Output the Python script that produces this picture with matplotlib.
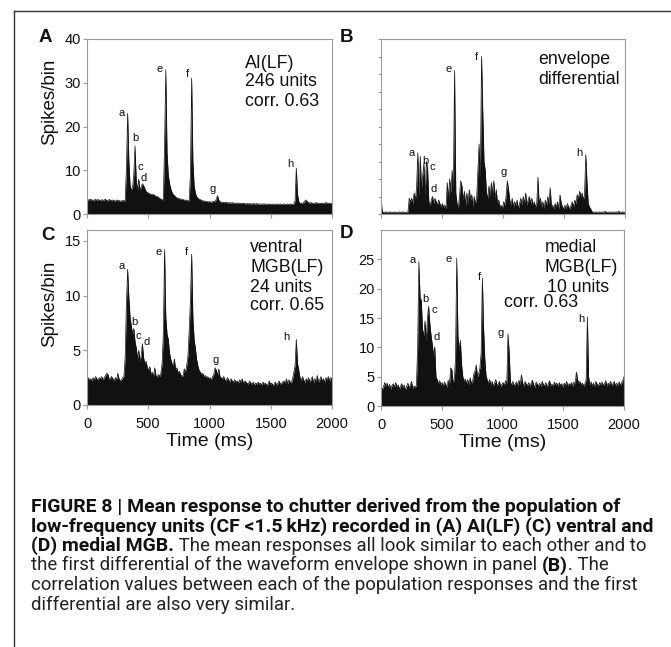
import numpy as np
import matplotlib

matplotlib.use("Agg")
import matplotlib.pyplot as plt
from matplotlib import font_manager
from matplotlib.lines import Line2D

plt.rcParams["font.family"] = ["Liberation Sans", "DejaVu Sans"]

W, H = 671, 647

# mean responses, 10 ms bins from 0 to 2000 ms (spikes/bin)
resp_a = [
    3.3, 3.1, 3.4, 3.2, 3.3, 3.0, 3.2, 3.4, 3.1, 3.3, 3.2, 3.0, 3.3, 3.1, 3.2, 3.4, 3.0, 3.1, 3.3, 3.2,
    3.0, 3.2, 3.1, 2.9, 3.2, 3.0, 3.1, 2.9, 3.0, 3.1, 3.0, 3.1, 10.0, 23.0, 12.0, 6.5, 5.5, 6.0, 9.0, 15.6,
    7.5, 5.5, 8.0, 5.5, 6.2, 6.9, 6.5, 5.8, 5.2, 4.9, 4.8, 4.6, 4.5, 4.4, 4.5, 4.2, 4.1, 4.0, 3.8, 3.6,
    3.4, 3.3, 3.2, 16.0, 33.0, 14.0, 9.0, 7.0, 5.8, 5.0, 4.5, 4.2, 3.9, 3.7, 3.6, 3.5, 3.4, 3.4, 3.3, 3.2,
    3.1, 3.2, 3.0, 3.1, 9.0, 31.0, 12.0, 6.5, 4.8, 4.0, 3.6, 3.4, 3.3, 3.1, 3.0, 3.0, 2.9, 2.9, 2.8, 2.8,
    2.8, 2.7, 2.8, 2.9, 2.8, 3.4, 4.2, 3.2, 2.8, 2.7, 2.7, 2.6, 2.7, 2.6, 2.6, 2.5, 2.6, 2.5, 2.6, 2.5,
    2.5, 2.4, 2.5, 2.5, 2.4, 2.4, 2.5, 2.4, 2.4, 2.3, 2.4, 2.3, 2.4, 2.3, 2.3, 2.4, 2.3, 2.3, 2.4, 2.2,
    2.3, 2.3, 2.2, 2.3, 2.3, 2.2, 2.3, 2.2, 2.3, 2.2, 2.2, 2.3, 2.2, 2.2, 2.3, 2.2, 2.2, 2.3, 2.2, 2.2,
    2.3, 2.2, 2.2, 2.3, 2.2, 2.3, 2.2, 2.2, 2.3, 3.0, 10.5, 4.5, 2.8, 2.5, 2.4, 2.5, 2.6, 3.0, 3.2, 2.8,
    2.6, 2.5, 2.6, 2.5, 2.4, 2.5, 2.6, 2.5, 2.4, 2.5, 2.4, 2.5, 2.4, 2.5, 2.6, 2.5, 2.4, 2.5, 2.4, 2.5,
]

# first differential of the envelope (arbitrary units)
env_diff = [
    0.9, 0.15, 0.1, 0.1, 0.12, 0.1, 0.1, 0.12, 0.1, 0.1, 0.1, 0.12, 0.1, 0.1, 0.1, 0.12, 0.1, 0.1, 0.12, 0.1,
    0.1, 0.1, 0.12, 0.9, 0.7, 0.9, 0.6, 1.2, 0.8, 1.5, 3.5, 1.0, 3.3, 1.5, 2.2, 2.9, 1.0, 3.0, 2.6, 0.7,
    0.5, 0.8, 1.0, 0.6, 0.9, 0.7, 0.5, 0.8, 0.6, 0.4, 0.6, 0.4, 0.5, 0.3, 1.8, 0.9, 2.0, 1.2, 2.5, 1.5,
    8.2, 1.2, 0.6, 0.3, 1.0, 1.9, 1.6, 0.8, 1.3, 0.5, 1.2, 0.6, 1.4, 0.8, 1.1, 0.4, 1.0, 0.6, 0.9, 2.5,
    4.0, 2.0, 9.0, 5.8, 3.0, 2.5, 1.2, 0.9, 1.6, 1.0, 1.8, 1.2, 1.9, 0.9, 1.4, 0.6, 0.8, 0.4, 0.5, 0.3,
    0.7, 0.5, 1.0, 1.9, 1.4, 0.8, 0.5, 0.9, 0.4, 0.7, 0.5, 0.8, 0.3, 0.6, 0.9, 0.5, 1.0, 0.6, 1.2, 0.5,
    0.8, 1.0, 0.6, 0.9, 0.5, 0.7, 0.4, 0.6, 2.1, 0.5, 0.9, 0.4, 0.7, 0.3, 0.8, 0.5, 1.0, 0.6, 1.5, 0.4,
    0.5, 0.3, 0.6, 0.4, 0.7, 0.3, 1.1, 0.6, 0.4, 0.3, 0.5, 0.3, 0.6, 0.4, 0.3, 0.5, 0.7, 0.4, 0.8, 0.6,
    1.1, 0.9, 1.3, 1.0, 1.2, 0.8, 1.1, 3.4, 1.8, 0.6, 0.4, 0.3, 0.15, 0.1, 0.1, 0.12, 0.1, 0.1, 0.12, 0.1,
    0.1, 0.12, 0.1, 0.15, 0.1, 0.1, 0.12, 0.1, 0.1, 0.12, 0.1, 0.1, 0.12, 0.1, 0.15, 0.1, 0.1, 0.12, 0.1, 0.1,
]

resp_c = [
    2.2, 2.5, 2.3, 2.4, 2.2, 2.5, 2.3, 2.6, 2.4, 2.3, 2.5, 2.4, 2.6, 2.3, 2.5, 2.7, 2.9, 2.8, 2.3, 2.5,
    2.6, 2.4, 2.2, 2.5, 2.3, 2.9, 2.4, 2.2, 2.3, 2.5, 2.6, 4.4, 9.2, 12.4, 9.8, 8.0, 7.2, 6.5, 7.0, 5.8,
    5.2, 4.2, 5.0, 4.0, 4.5, 5.6, 4.3, 3.8, 4.0, 3.4, 3.2, 3.5, 2.8, 3.0, 2.6, 3.4, 2.7, 2.5, 2.8, 2.6,
    2.9, 3.8, 6.5, 14.2, 8.0, 6.5, 6.0, 4.8, 4.2, 3.8, 3.6, 4.2, 3.2, 3.4, 2.9, 3.1, 2.8, 2.6, 2.7, 3.3,
    3.0, 3.6, 4.5, 6.8, 9.5, 13.8, 8.0, 6.0, 5.2, 4.2, 3.6, 3.2, 3.0, 2.8, 2.9, 2.6, 2.7, 2.5, 2.6, 2.4,
    2.5, 2.3, 2.6, 2.8, 3.4, 3.2, 2.7, 3.3, 2.6, 2.5, 2.4, 2.6, 2.3, 2.2, 2.5, 2.3, 2.1, 2.4, 2.2, 2.1,
    2.3, 2.1, 2.2, 2.0, 2.3, 2.1, 2.4, 2.0, 2.2, 2.1, 2.0, 1.9, 2.2, 2.0, 1.9, 2.1, 1.8, 2.0, 1.9, 2.1,
    1.9, 2.0, 1.8, 2.1, 1.9, 2.0, 1.8, 1.9, 2.2, 1.9, 2.0, 1.8, 1.9, 2.1, 1.8, 2.0, 2.2, 1.9, 2.0, 2.1,
    2.2, 2.0, 2.4, 1.9, 2.3, 2.1, 2.0, 2.4, 3.0, 3.6, 6.0, 3.8, 3.2, 2.5, 2.2, 2.6, 2.3, 2.0, 2.4, 2.2,
    2.5, 2.1, 2.3, 2.6, 2.0, 2.4, 2.2, 2.7, 2.1, 2.3, 2.6, 2.2, 2.4, 2.1, 2.5, 2.3, 2.6, 2.2, 2.5, 2.4,
]

resp_d = [
    3.5, 2.8, 3.2, 4.0, 3.4, 3.9, 3.1, 3.7, 2.9, 3.5, 3.8, 3.2, 4.0, 3.3, 3.6, 2.9, 3.4, 3.8, 3.1, 3.6,
    2.7, 3.3, 3.9, 3.2, 3.5, 4.2, 3.0, 3.4, 3.1, 3.6, 10.0, 24.6, 18.5, 18.0, 13.0, 12.0, 14.5, 11.0, 15.0, 17.0,
    14.0, 12.0, 10.5, 8.5, 10.1, 5.0, 4.5, 3.8, 4.3, 3.6, 4.0, 3.4, 4.1, 3.7, 3.2, 4.4, 3.5, 6.5, 6.2, 4.0,
    4.5, 8.0, 25.2, 12.0, 9.5, 11.2, 7.0, 5.0, 4.2, 4.6, 3.8, 4.5, 3.6, 4.8, 3.9, 4.2, 5.5, 6.0, 7.0, 5.0,
    5.5, 6.5, 9.0, 21.8, 13.3, 8.0, 5.2, 4.4, 3.9, 4.5, 3.6, 4.2, 3.4, 3.9, 4.5, 3.5, 3.8, 4.2, 3.3, 3.7,
    4.0, 3.5, 4.3, 3.8, 12.3, 9.0, 4.0, 3.6, 4.2, 3.4, 3.8, 4.1, 3.5, 4.4, 3.6, 5.3, 3.9, 3.4, 4.2, 3.7,
    3.5, 4.0, 3.3, 3.9, 4.4, 3.6, 3.2, 4.1, 3.7, 3.4, 3.9, 3.3, 4.2, 3.6, 3.5, 4.0, 3.2, 3.8, 4.3, 3.5,
    3.7, 3.4, 4.1, 3.6, 3.9, 3.3, 4.0, 3.5, 3.8, 3.2, 3.9, 3.5, 4.2, 3.4, 3.8, 3.6, 4.0, 3.3, 4.1, 3.7,
    5.8, 4.5, 3.9, 4.2, 3.6, 3.9, 3.4, 3.8, 4.5, 15.2, 5.0, 3.6, 4.1, 3.5, 3.9, 3.3, 4.2, 3.7, 3.4, 4.0,
    3.6, 4.1, 3.5, 3.8, 4.3, 3.4, 3.9, 3.6, 4.2, 3.5, 3.8, 4.2, 3.4, 3.9, 3.5, 4.1, 3.6, 3.9, 4.4, 5.0,
]

peak_names = ["a", "b", "c", "d", "e", "f", "g", "h"]

panel_info = {
    "A": ["AI(LF)", "246 units", "corr. 0.63"],
    "B": ["envelope", "differential"],
    "C": ["ventral", "MGB(LF)", "24 units", "corr. 0.65"],
    "D": ["medial", "MGB(LF)", "10 units", "corr. 0.63"],
}

caption = [
    [("FIGURE 8 | Mean response to chutter derived from the population of", True)],
    [("low-frequency units (CF <1.5\u2009kHz) recorded in (A) AI(LF) (C) ventral and", True)],
    [("(D) medial MGB.", True), (" The mean responses all look similar to each other and to", False)],
    [("the first differential of the waveform envelope shown in panel ", False), ("(B)", True), (". The", False)],
    [("correlation values between each of the population responses and the first", False)],
    [("differential are also very similar.", False)],
]

# layout (pixels) -------------------------------------------------------------
boxes = {"A": (87, 39, 332, 214), "B": (381, 39, 625, 214),
         "C": (87, 230, 332, 405), "D": (381, 230, 624, 406)}
ylims = {"A": 40, "B": 10, "C": 16, "D": 30}
yticks = {"A": [0, 10, 20, 30, 40], "B": list(range(11)), "C": [0, 5, 10, 15], "D": [0, 5, 10, 15, 20, 25]}
peak_pos = {
    "A": ([283, 392, 438, 460, 590, 822, 1023, 1657], [23.0, 17.3, 10.8, 8.2, 33.1, 32.0, 5.7, 11.4]),
    "B": ([252, 361, 418, 429, 558, 785, 1009, 1627], [3.47, 3.0, 2.7, 1.4, 8.3, 9.0, 2.4, 3.5]),
    "C": ([283, 384, 419, 487, 588, 813, 1053, 1624], [12.7, 7.6, 6.3, 5.8, 14.0, 14.0, 4.1, 6.2]),
    "D": ([258, 362, 439, 458, 560, 807, 988, 1652], [24.9, 18.3, 16.4, 11.8, 25.0, 22.0, 12.5, 14.8]),
}
info_pos = {
    "A": [(245, 63), (245, 82), (245, 102)],
    "B": [(538, 60), (538, 80)],
    "C": [(250, 247), (250, 268), (250, 287), (250, 305)],
    "D": [(545, 247), (545, 267), (547, 287), (504, 303)],
}
letter_pos = {"A": (45, 37), "B": (347, 38), "C": (48, 236), "D": (347, 233)}
series = {"A": resp_a, "B": env_diff, "C": resp_c, "D": resp_d}


def has_font(name):
    try:
        font_manager.findfont(name, fallback_to_default=False)
        return True
    except ValueError:
        return False


cap_family = "Roboto" if has_font("Roboto") else "Liberation Sans"

fig = plt.figure(figsize=(W / 100, H / 100), dpi=100)
spine_col = "#9a9a9a"
ink = "#111111"

for key, (x0, y0, x1, y1) in boxes.items():
    ax = fig.add_axes([x0 / W, 1 - y1 / H, (x1 - x0) / W, (y1 - y0) / H])
    vals = np.array(series[key])
    t = np.linspace(0, 2000, len(vals))
    ax.fill_between(t, 0, vals, color=ink, lw=0)
    ax.plot(t, vals, color=ink, lw=0.5)
    ax.set_xlim(0, 2000)
    ax.set_ylim(0, ylims[key])
    ax.set_xticks([0, 500, 1000, 1500, 2000])
    ax.set_yticks(yticks[key])
    for sp in ax.spines.values():
        sp.set_color(spine_col)
        sp.set_linewidth(0.8)
    ax.tick_params(colors=spine_col, labelcolor=ink, width=0.8, length=3, labelsize=10.5)
    ax.tick_params(axis="x", pad=5.5)
    ax.tick_params(axis="y", pad=1.5)
    if key in ("A", "B"):
        ax.set_xticklabels([])
    else:
        ax.set_xlabel("Time (ms)", fontsize=14, color=ink, labelpad=1.5)
    if key == "B":
        ax.set_yticklabels([])
        ax.tick_params(axis="y", length=2)
    if key in ("A", "C"):
        ax.set_ylabel("Spikes/bin", fontsize=13.5, color=ink)
        ax.yaxis.set_label_coords(-0.118, 0.64 if key == "A" else 0.58)
    px, py = peak_pos[key]
    for name, xx, yy in zip(peak_names, px, py):
        ax.text(xx, yy, name, fontsize=8, color=ink, ha="center", va="center")
    for line, (lx, ly) in zip(panel_info[key], info_pos[key]):
        fig.text(lx / W, 1 - ly / H, line, fontsize=12.8, color=ink, ha="left", va="center")
    lx, ly = letter_pos[key]
    fig.text(lx / W, 1 - ly / H, key, fontsize=13.5, fontweight="bold", color=ink, ha="center", va="center")

# frame lines
fig.add_artist(Line2D([14 / W, 14 / W], [1 - 11 / H, 0], transform=fig.transFigure, color="#333333", lw=1))
fig.add_artist(Line2D([14 / W, 1], [1 - 11 / H, 1 - 11 / H], transform=fig.transFigure, color="#333333", lw=1))

# caption, bold/regular runs placed one after another
renderer = fig.canvas.get_renderer()


def run_extent(text, size, bold):
    w = "bold" if bold else "normal"
    probe = fig.text(0, 0, "X" + text + "X", fontsize=size, fontweight=w, family=cap_family)
    ref = fig.text(0, 0, "XX", fontsize=size, fontweight=w, family=cap_family)
    b1 = probe.get_window_extent(renderer)
    b2 = ref.get_window_extent(renderer)
    probe.remove()
    ref.remove()
    return b1.width - b2.width, b1.height


line_gap = 19.5
size_w = 12.0 * 620.0 / run_extent(caption[1][0][0], 12.0, True)[0]
size_h = 12.0 * (line_gap - 0.4) / run_extent("Xg", 12.0, True)[1]
cap_bold = min(size_w, size_h)
cap_reg = cap_bold * 0.96

baselines = [512 + i * line_gap for i in range(len(caption))]
for runs, base in zip(caption, baselines):
    x = 31.0
    for text, bold in runs:
        size = cap_bold if bold else cap_reg
        fig.text(x / W, 1 - base / H, text, fontsize=size, fontweight="bold" if bold else "normal",
                 family=cap_family, color=ink if bold else "#222222", ha="left", va="baseline")
        x += run_extent(text, size, bold)[0]

fig.savefig("out.png", dpi=100)
